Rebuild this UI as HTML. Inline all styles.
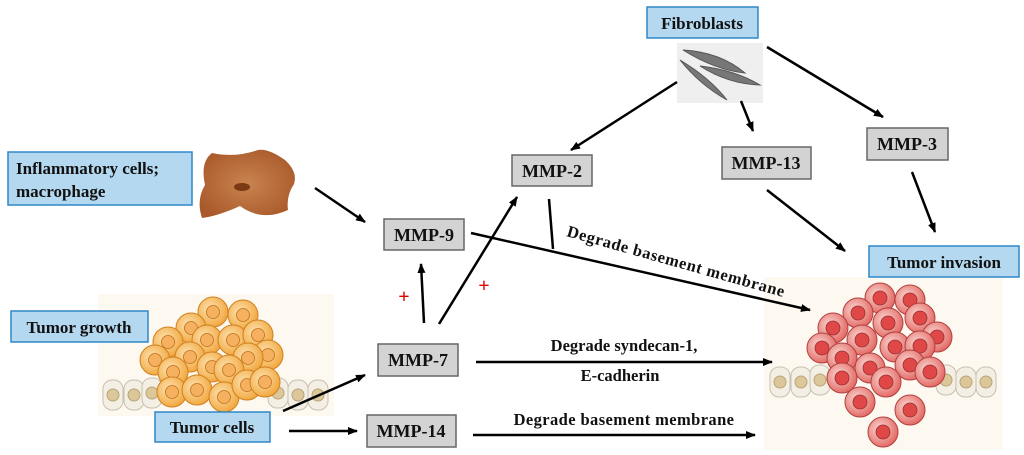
<!DOCTYPE html>
<html><head><meta charset="utf-8"><style>
html,body{margin:0;padding:0;background:#fff;}
svg{display:block;}
text{font-family:"Liberation Serif",serif;font-weight:bold;fill:#111;}
</style></head><body>
<svg width="1024" height="455" viewBox="0 0 1024 455" xmlns="http://www.w3.org/2000/svg">
<defs>
<marker id="ah" markerWidth="10" markerHeight="8" refX="9" refY="4" orient="auto" markerUnits="userSpaceOnUse"><path d="M0,0 L10,4 L0,8 Z" fill="#000"/></marker>
<radialGradient id="rg" cx="0.4" cy="0.4" r="0.7"><stop offset="0" stop-color="#fbd9d4"/><stop offset="1" stop-color="#e05a55"/></radialGradient>
<radialGradient id="og" cx="0.4" cy="0.4" r="0.7"><stop offset="0" stop-color="#fde2b0"/><stop offset="1" stop-color="#f0a030"/></radialGradient>
<radialGradient id="bg" cx="0.5" cy="0.5" r="0.6"><stop offset="0" stop-color="#c9844f"/><stop offset="1" stop-color="#a8582a"/></radialGradient>
<g id="rc"><circle r="15" fill="url(#rg)" stroke="#b04040" stroke-width="1"/><circle r="7" fill="#e04848" stroke="#9a3030" stroke-width="0.8"/></g>
<g id="oc"><circle r="15" fill="url(#og)" stroke="#d08020" stroke-width="1"/><circle r="6.5" fill="#f5b060" stroke="#c07018" stroke-width="0.8"/></g>
<g id="ec"><rect x="-10" y="-15" width="20" height="30" rx="9" fill="#f4efe4" stroke="#c8c0b0"/><circle r="6" fill="#dcc79a" stroke="#b8a478"/></g>
</defs>

<rect x="98" y="294" width="236" height="122" fill="#fdf9f0"/>
<rect x="764" y="277" width="239" height="173" fill="#fdf9f0"/>
<rect x="677" y="43" width="86" height="60" fill="#efefef"/>

<g fill="#777" stroke="#555" stroke-width="1">
<path d="M683,50 Q720,52 745,73 Q715,70 683,50Z"/>
<path d="M680,60 Q700,85 727,100 Q710,78 680,60Z"/>
<path d="M700,66 Q735,70 760,85 Q728,84 700,66Z"/>
</g>

<path d="M212,153 Q235,158 258,150 Q268,148 285,160 Q298,172 294,184 Q286,196 288,210 Q262,222 240,206 Q218,216 202,218 Q196,200 205,185 Q200,162 212,153Z" fill="url(#bg)"/>
<ellipse cx="242" cy="187" rx="8" ry="4" fill="#7a3a14"/>

<use href="#ec" x="113" y="395"/><use href="#ec" x="134" y="395"/><use href="#ec" x="152" y="393"/>
<use href="#ec" x="278" y="393"/><use href="#ec" x="298" y="395"/><use href="#ec" x="318" y="395"/>
<use href="#oc" x="213" y="312"/><use href="#oc" x="243" y="315"/><use href="#oc" x="191" y="328"/>
<use href="#oc" x="168" y="342"/><use href="#oc" x="207" y="340"/><use href="#oc" x="233" y="340"/>
<use href="#oc" x="258" y="335"/><use href="#oc" x="268" y="355"/><use href="#oc" x="155" y="360"/>
<use href="#oc" x="190" y="357"/><use href="#oc" x="212" y="367"/><use href="#oc" x="248" y="358"/>
<use href="#oc" x="173" y="372"/><use href="#oc" x="229" y="370"/><use href="#oc" x="172" y="392"/>
<use href="#oc" x="197" y="390"/><use href="#oc" x="224" y="397"/><use href="#oc" x="247" y="385"/>
<use href="#oc" x="265" y="382"/>

<use href="#ec" x="780" y="382"/><use href="#ec" x="801" y="382"/><use href="#ec" x="820" y="380"/>
<use href="#ec" x="946" y="380"/><use href="#ec" x="966" y="382"/><use href="#ec" x="986" y="382"/>
<use href="#rc" x="880" y="298"/><use href="#rc" x="910" y="300"/><use href="#rc" x="858" y="313"/>
<use href="#rc" x="888" y="323"/><use href="#rc" x="920" y="318"/><use href="#rc" x="833" y="328"/>
<use href="#rc" x="937" y="337"/><use href="#rc" x="862" y="340"/><use href="#rc" x="822" y="348"/>
<use href="#rc" x="895" y="347"/><use href="#rc" x="920" y="346"/><use href="#rc" x="842" y="358"/>
<use href="#rc" x="870" y="368"/><use href="#rc" x="910" y="365"/><use href="#rc" x="930" y="372"/>
<use href="#rc" x="842" y="378"/><use href="#rc" x="886" y="382"/><use href="#rc" x="860" y="402"/>
<use href="#rc" x="910" y="410"/><use href="#rc" x="883" y="432"/>

<g fill="#b4d8f0" stroke="#2f88c8" stroke-width="1.5">
<rect x="647" y="7" width="111" height="31"/>
<rect x="8" y="152" width="184" height="53"/>
<rect x="11" y="311" width="137" height="31"/>
<rect x="155" y="412" width="115" height="30"/>
<rect x="869" y="246" width="150" height="31"/>
</g>
<text x="702" y="29" font-size="17" text-anchor="middle">Fibroblasts</text>
<text x="16" y="174" font-size="17">Inflammatory cells;</text>
<text x="16" y="197" font-size="17">macrophage</text>
<text x="79" y="333" font-size="17" text-anchor="middle">Tumor growth</text>
<text x="212" y="433" font-size="17" text-anchor="middle">Tumor cells</text>
<text x="944" y="268" font-size="17" text-anchor="middle">Tumor invasion</text>

<g fill="#d3d3d3" stroke="#666" stroke-width="1.5">
<rect x="512" y="155" width="80" height="31"/>
<rect x="722" y="147" width="89" height="32"/>
<rect x="867" y="128" width="81" height="32"/>
<rect x="384" y="219" width="80" height="31"/>
<rect x="378" y="344" width="80" height="32"/>
<rect x="367" y="415" width="89" height="32"/>
</g>
<g font-size="18" text-anchor="middle">
<text x="552" y="177">MMP-2</text>
<text x="766" y="169">MMP-13</text>
<text x="907" y="150">MMP-3</text>
<text x="424" y="241">MMP-9</text>
<text x="418" y="366">MMP-7</text>
<text x="411" y="437">MMP-14</text>
</g>

<g stroke="#000" stroke-width="2.5" fill="none" marker-end="url(#ah)">
<line x1="315" y1="188" x2="365" y2="222"/>
<line x1="424" y1="323" x2="421" y2="264"/>
<line x1="439" y1="324" x2="517" y2="197"/>
<line x1="471" y1="233" x2="810" y2="310"/>
<line x1="476" y1="362" x2="772" y2="362"/>
<line x1="473" y1="435" x2="755" y2="435"/>
<line x1="283" y1="411" x2="365" y2="375"/>
<line x1="289" y1="431" x2="357" y2="431"/>
<line x1="677" y1="82" x2="571" y2="150"/>
<line x1="741" y1="101" x2="753" y2="131"/>
<line x1="767" y1="47" x2="883" y2="117"/>
<line x1="767" y1="190" x2="845" y2="251"/>
<line x1="912" y1="172" x2="935" y2="232"/>
</g>
<line x1="549" y1="199" x2="553" y2="249" stroke="#000" stroke-width="2.5"/>

<text x="404" y="303" font-size="20" style="fill:#e00000" text-anchor="middle">+</text>
<text x="484" y="292" font-size="20" style="fill:#e00000" text-anchor="middle">+</text>

<text x="566" y="236" font-size="16.5" letter-spacing="0.6" transform="rotate(15.7 566 236)">Degrade basement membrane</text>
<text x="624" y="351" font-size="16.5" text-anchor="middle">Degrade syndecan-1,</text>
<text x="620" y="381" font-size="16.5" text-anchor="middle">E-cadherin</text>
<text x="624" y="425" font-size="16.5" letter-spacing="0.4" text-anchor="middle">Degrade basement membrane</text>
</svg>
</body></html>
